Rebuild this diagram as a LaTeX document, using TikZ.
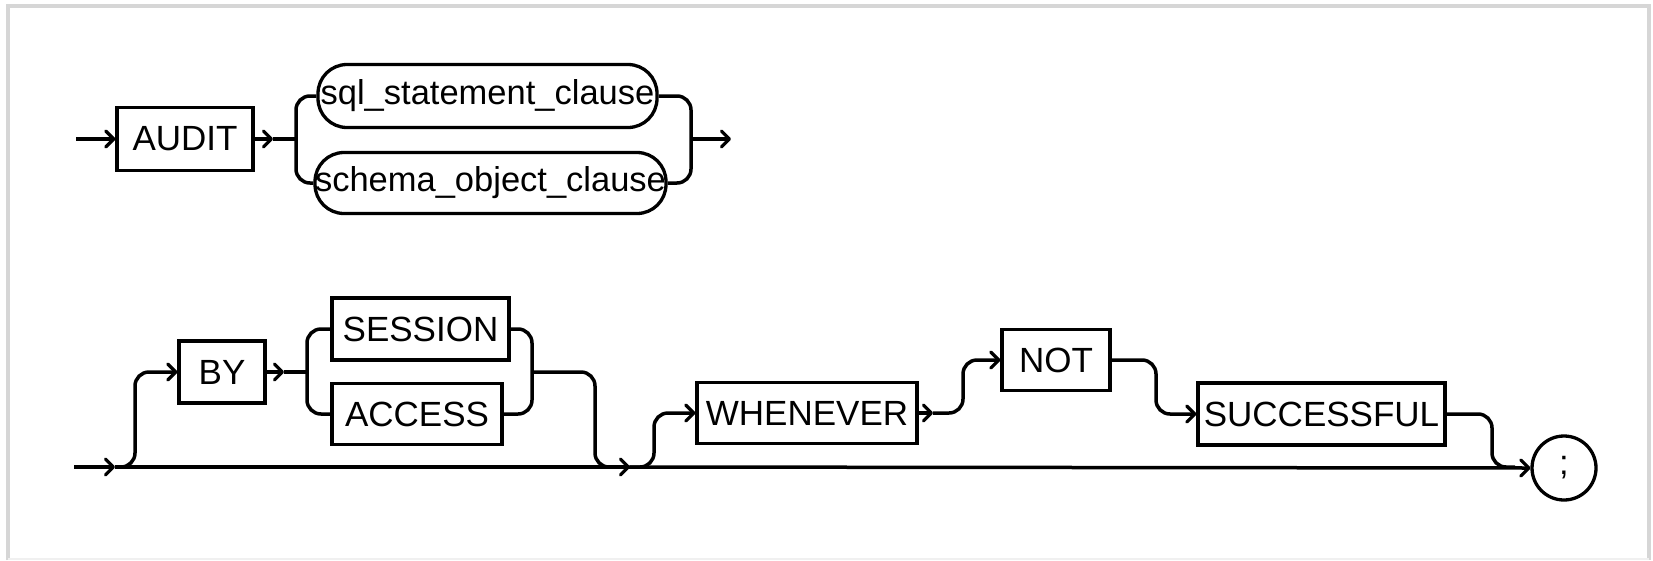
\documentclass[tikz,border=0pt]{standalone}
\usepackage{fontspec}
\setmainfont{Liberation Sans}
\usetikzlibrary{arrows.meta}
\begin{document}
\begin{tikzpicture}[x=1pt,y=-1pt,line width=3.5pt,
  term/.style={draw,rectangle,inner sep=0pt,line width=3.3pt,font=\fontsize{35}{40}\selectfont},
  nterm/.style={draw,rectangle,rounded corners=29pt,inner sep=0pt,line width=3.3pt,font=\fontsize{34.5}{40}\selectfont},
  arr/.style={-{Straight Barb[length=8pt,width=16pt,line width=3.2pt,round]}},
  conn/.style={rounded corners=14pt},
  framel/.style={draw=black!16,line width=4pt}]
\useasboundingbox (0,0) rectangle (1653,560);
\draw[framel] (8,560) -- (8,6) -- (1649,6) -- (1649,560);
\draw[draw=black!6,line width=2pt] (8,559) -- (1649,559);
% row 1
\node[term,minimum width=136pt,minimum height=63pt] (audit) at (185,139) {AUDIT};
\node[nterm,minimum width=339pt,minimum height=63pt] (sql) at (487.5,96) {sql\_statement\_clause};
\node[nterm,minimum width=347pt,minimum height=61pt] (schema) at (490.5,183) {schema\_object\_clause};
\coordinate (s1) at (76,139);
\coordinate (a1) at (273,139);
\coordinate (b1) at (296,139);
\coordinate (b2) at (691,139);
\coordinate (e1) at (731,139);
\draw[arr] (s1) -- (audit.west);
\draw[arr] (audit.east) -- (a1);
\draw (a1) -- (b1);
\draw[conn] (sql.west) -| (b1) |- (schema.west);
\draw[conn] (sql.east) -| (b2) |- (schema.east);
\draw[arr] (b2) -- (e1);
% row 2
\node[term,minimum width=86pt,minimum height=62pt] (by) at (222,372) {BY};
\node[term,minimum width=177pt,minimum height=62pt] (session) at (420.5,329) {SESSION};
\node[term,minimum width=170pt,minimum height=61pt] (access) at (417,414) {ACCESS};
\node[term,minimum width=220pt,minimum height=61pt] (whenever) at (807,413) {WHENEVER};
\node[term,minimum width=108pt,minimum height=61pt] (not) at (1056,360) {NOT};
\node[term,minimum width=247pt,minimum height=62pt] (succ) at (1321.5,414) {SUCCESSFUL};
\node[draw,circle,inner sep=0pt,minimum size=64pt,line width=3.3pt,font=\fontsize{34.5}{40}\selectfont] (semi) at (1564,468) {;};
\coordinate (s2) at (74,467);
\coordinate (m1) at (115,467);
\coordinate (m2) at (630,467);
\coordinate (u1) at (135,372);
\coordinate (a2) at (284,372);
\coordinate (b3) at (307,372);
\coordinate (b4) at (532,372);
\coordinate (d1) at (595,467);
\coordinate (u2) at (654,413);
\coordinate (a3) at (933,413);
\coordinate (u3) at (963,360);
\coordinate (d2) at (1156,414);
\coordinate (d3) at (1492,467);
\coordinate (m3) at (1515,467);
\draw[arr] (s2) -- (m1);
\draw[arr] (m1) -- (m2);
\draw[arr] (m2) -- (semi.west);
\draw[conn,arr] (m1) -| (u1) -- (by.west);
\draw[arr] (by.east) -- (a2);
\draw (a2) -- (b3);
\draw[conn] (session.west) -| (b3) |- (access.west);
\draw[conn] (session.east) -| (b4) |- (access.east);
\draw[conn] (b4) -| (d1) -- (m2);
\draw[conn,arr] (m2) -| (u2) -- (whenever.west);
\draw[arr] (whenever.east) -- (a3);
\draw[conn,arr] (a3) -| (u3) -- (not.west);
\draw[conn,arr] (not.east) -| (d2) -- (succ.west);
\draw[conn] (succ.east) -| (d3) -- (m3);
\end{tikzpicture}
\end{document}
